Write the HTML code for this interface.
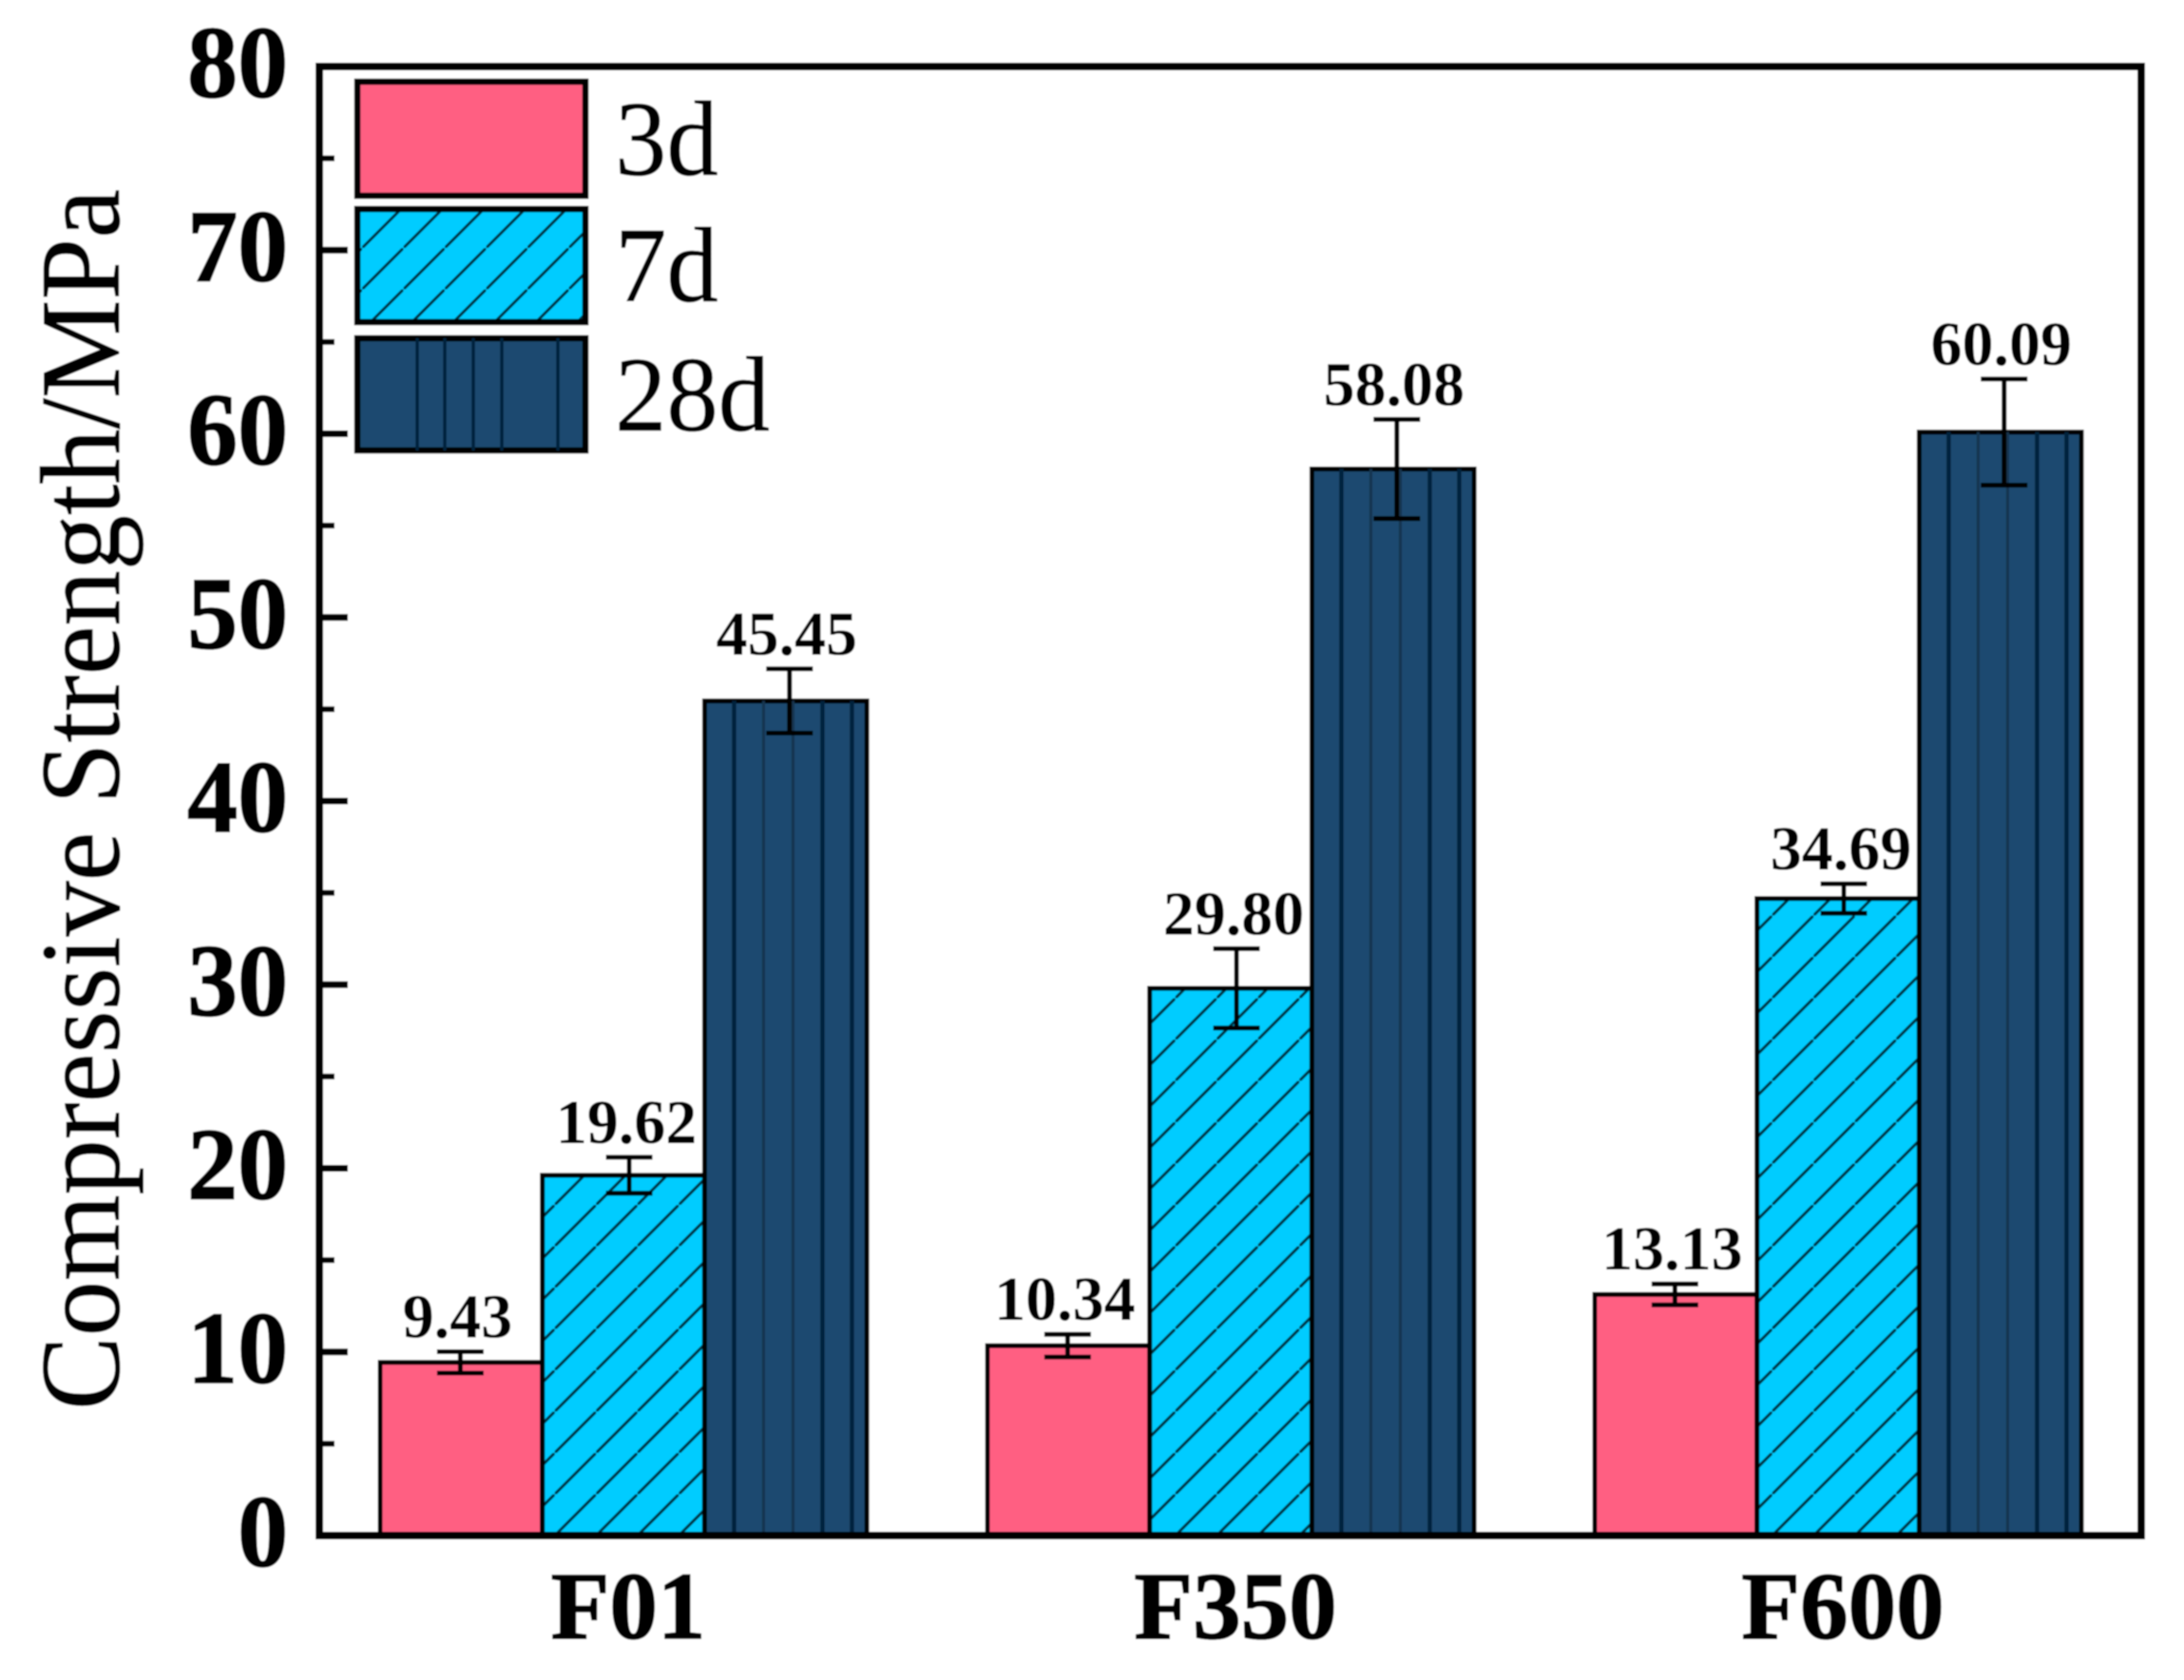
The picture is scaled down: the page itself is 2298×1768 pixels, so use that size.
<!DOCTYPE html>
<html lang="en">
<head>
<meta charset="utf-8">
<title>Compressive Strength Chart</title>
<style>
  html, body { margin: 0; padding: 0; background: #ffffff; }
  body { width: 2298px; height: 1768px; overflow: hidden; }
  svg { display: block; }
  text { font-family: "Liberation Serif", serif; fill: #000000; }
  .bold { font-weight: 700; }
  .heavy { stroke: #000; stroke-width: 1.6px; }
</style>
</head>
<body>
<svg id="chart" xmlns="http://www.w3.org/2000/svg" width="2298" height="1768" viewBox="0 0 2298 1768">
  <defs id="defs">
    <filter id="soft" x="0" y="0" width="100%" height="100%"><feGaussianBlur stdDeviation="0.7"/></filter>
    <pattern id="legend-hatch" patternUnits="userSpaceOnUse" width="43.5" height="43.5" patternTransform="translate(33,0)">
      <rect width="43.5" height="43.5" fill="#00CCFF"/>
      <line x1="-5" y1="48.5" x2="48.5" y2="-5" stroke="#06303f" stroke-width="3"/>
    </pattern>
  </defs>
  <g id="root" filter="url(#soft)">
    <rect x="0" y="0" width="2298" height="1768" fill="#ffffff"/>
    <text transform="translate(125,1484) rotate(-90)" font-size="120" textLength="1285" lengthAdjust="spacingAndGlyphs" stroke="#000" stroke-width="0.8">Compressive Strength/MPa</text>
    <g id="plot"></g>
    <g>
      <g>
        <rect x="376" y="86" width="240" height="120" fill="#FF5F82" stroke="#000" stroke-width="6.5"/>
        <text transform="translate(647,184) scale(.97,1)" font-size="112" stroke="#000" stroke-width="0.6">3d</text>
      </g>
      <g>
        <rect x="376" y="220" width="240" height="119" fill="url(#legend-hatch)" stroke="#000" stroke-width="6.5"/>
        <text transform="translate(647,317) scale(.97,1)" font-size="112" stroke="#000" stroke-width="0.6">7d</text>
      </g>
      <g>
        <rect x="376" y="356" width="240" height="118" fill="#1B4A6F" stroke="#000" stroke-width="6.5"/>
        <line x1="439" y1="356" x2="439" y2="474" stroke="#06223d" stroke-width="3.5"/>
        <line x1="468" y1="356" x2="468" y2="474" stroke="#06223d" stroke-width="3.5"/>
        <line x1="498" y1="356" x2="498" y2="474" stroke="#06223d" stroke-width="3.5"/>
        <line x1="528" y1="356" x2="528" y2="474" stroke="#06223d" stroke-width="3.5"/>
        <line x1="587" y1="356" x2="587" y2="474" stroke="#06223d" stroke-width="3.5"/>
        <text transform="translate(647,453) scale(.97,1)" font-size="112" stroke="#000" stroke-width="0.6">28d</text>
      </g>
    </g>
  </g>
</svg>
<script>
// Chart data
const categories = ['F01', 'F350', 'F600'];
const seriesNames = ['3d', '7d', '28d'];
const values3d = [9.43, 10.34, 13.13];
const values7d = [19.62, 29.80, 34.69];
const values28d = [45.45, 58.08, 60.09];
const errors3d = [0.58, 0.62, 0.57];
const errors7d = [0.98, 2.16, 0.8];
const errors28d = [1.75, 2.7, 2.89];
const majorTicks = [0, 10, 20, 30, 40, 50, 60, 70, 80];
const minorTicks = [5, 15, 25, 35, 45, 55, 65, 75];

const seriesValues = [values3d, values7d, values28d];
const seriesErrors = [errors3d, errors7d, errors28d];

// Axis functions
function yScale(v) { return 1616 - 19.325 * v; }
function groupCenter(i) { return 656 + 639 * i; }
function barLeft(i, s) { return groupCenter(i) - 256 + 170.7 * s; }
const barWidth = 170.7;
const errOffsets = { 0: -1, 1: 6, 2: 4 };
const hatchOffsets = { 0: 13, 1: 27, 2: 16 };
const svgNS = 'http://www.w3.org/2000/svg';
const plot = document.getElementById('plot');
const defs = document.getElementById('defs');

function make(tag, parent) {
  const el = document.createElementNS(svgNS, tag);
  parent.appendChild(el);
  return el;
}
function setAttrs(el, obj) {
  for (const k in obj) el.setAttribute(k, obj[k]);
}

// Bars
seriesNames.forEach(function (name, s) {
  const group = make('g', plot);
  
  
  categories.forEach(function (cat, i) {
    const x = barLeft(i, s);
    const y = yScale(seriesValues[s][i]);
    const h = yScale(0) - y;
    let fill = '#FF5F82';
    if (s === 1) {
      const pat = make('pattern', defs);
      const pid = 'hatch-' + i;
      setAttrs(pat, { id: pid, patternUnits: 'userSpaceOnUse', width: 43.5, height: 43.5,
        patternTransform: 'translate(' + (x + hatchOffsets[i]) + ',' + yScale(0) + ')' });
      const bg = make('rect', pat);
      setAttrs(bg, { width: 43.5, height: 43.5, fill: '#00CCFF' });
      const ln = make('line', pat);
      setAttrs(ln, { x1: -5, y1: 48.5, x2: 48.5, y2: -5, stroke: '#06303f', 'stroke-width': 3 });
      fill = 'url(#' + pid + ')';
    }
    if (s === 2) fill = '#1B4A6F';
    const bar = make('rect', group);
    setAttrs(bar, { x: x, y: y, width: barWidth, height: h, fill: fill, stroke: '#000', 'stroke-width': 5 });
    
    
    if (s === 2) {
      [1, 2, 3, 4, 5].forEach(function (k) {
        const stripe = make('line', group);
        const faint = (k === 2 || k === 3);
        setAttrs(stripe, { x1: x + 31 * k, y1: y, x2: x + 31 * k, y2: yScale(0),
          stroke: faint ? '#12344f' : '#06223d', 'stroke-width': faint ? 3 : 4.5 });
        
        
      });
    }
  });
});

// Error bars and value labels
seriesNames.forEach(function (name, s) {
  categories.forEach(function (cat, i) {
    const v = seriesValues[s][i];
    const e = seriesErrors[s][i];
    const cx = barLeft(i, s) + barWidth / 2 + errOffsets[s];
    const top = yScale(v + e);
    const bottom = yScale(v - e);
    const eb = make('g', plot);
    
    
    const stem = make('line', eb);
    setAttrs(stem, { x1: cx, y1: top, x2: cx, y2: bottom, stroke: '#000', 'stroke-width': 5 });
    
    
    const capTop = make('line', eb);
    setAttrs(capTop, { x1: cx - 24.5, y1: top, x2: cx + 24.5, y2: top, stroke: '#000', 'stroke-width': 5 });
    
    
    const capBottom = make('line', eb);
    setAttrs(capBottom, { x1: cx - 24.5, y1: bottom, x2: cx + 24.5, y2: bottom, stroke: '#000', 'stroke-width': 5 });
    
    
    const label = make('text', plot);
    setAttrs(label, { x: cx - 3, y: top - 15, 'text-anchor': 'middle', 'font-size': 66, 'class': 'bold' });
    label.textContent = v.toFixed(2);
    
    
  });
});

// Frame
const frame = make('rect', plot);
setAttrs(frame, { x: 336, y: 70, width: 1917, height: 1546, fill: 'none', stroke: '#000', 'stroke-width': 8 });



// Y ticks
majorTicks.forEach(function (t) {
  const y = yScale(t);
  if (t !== 0 && t !== 80) {
    const tick = make('line', plot);
    setAttrs(tick, { x1: 336, y1: y, x2: 366, y2: y, stroke: '#000', 'stroke-width': 7 });
    
    
  }
  const label = make('text', plot);
  setAttrs(label, { transform: 'translate(303,' + (y + 32) + ') scale(.98,1)', 'text-anchor': 'end', 'font-size': 108, 'class': 'bold heavy' });
  label.textContent = String(t);
  
  
});
minorTicks.forEach(function (t) {
  const y = yScale(t);
  const tick = make('line', plot);
  setAttrs(tick, { x1: 336, y1: y, x2: 352, y2: y, stroke: '#000', 'stroke-width': 6 });
  
  
});

// X category labels
categories.forEach(function (cat, i) {
  const label = make('text', plot);
  setAttrs(label, { transform: 'translate(' + (groupCenter(i) + 5) + ',1724) scale(1,1)', 'text-anchor': 'middle', 'font-size': 101, 'class': 'bold heavy' });
  label.textContent = cat;
  
  
});
</script>
</body>
</html>
